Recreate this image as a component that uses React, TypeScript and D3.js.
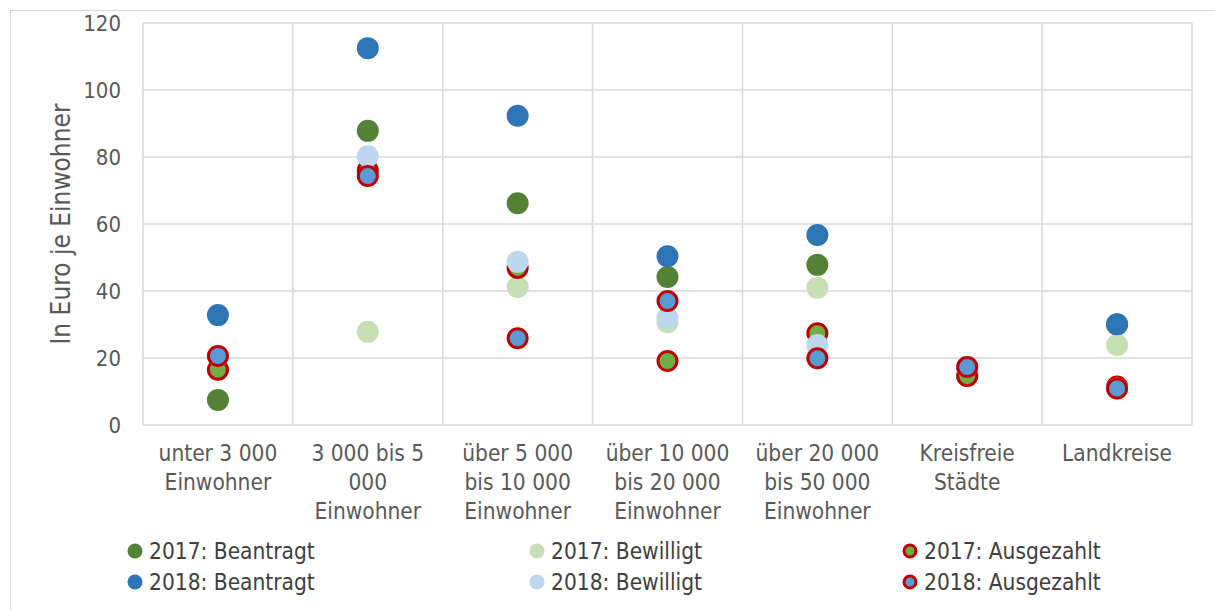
import { useEffect, useRef } from 'react'
import * as d3 from 'd3'

const categories = [
  ['unter 3 000', 'Einwohner'],
  ['3 000 bis 5', '000', 'Einwohner'],
  ['über 5 000', 'bis 10 000', 'Einwohner'],
  ['über 10 000', 'bis 20 000', 'Einwohner'],
  ['über 20 000', 'bis 50 000', 'Einwohner'],
  ['Kreisfreie', 'Städte'],
  ['Landkreise'],
]

const beantragt2017 = [7.5, 87.8, 66.2, 44.2, 47.8, 14.6, 30]
const bewilligt2017 = [16.5, 27.8, 41.2, 30.7, 41, 14.6, 23.9]
const ausgezahlt2017 = [16.5, 76, 46.9, 19.1, 27.4, 14.6, 11.5]
const beantragt2018 = [32.8, 112.5, 92.3, 50.4, 56.7, 17.3, 30.1]
const bewilligt2018 = [20.6, 80.2, 48.7, 31.9, 23.9, 17.3, 10.9]
const ausgezahlt2018 = [20.6, 74.3, 25.9, 37, 19.9, 17.3, 10.9]

const yTicks = [0, 20, 40, 60, 80, 100, 120]

// drawing order = legend order (row-wise)
const series = [
  { name: '2017: Beantragt', values: beantragt2017, fill: '#538135', stroke: null },
  { name: '2017: Bewilligt', values: bewilligt2017, fill: '#c5e0b4', stroke: null },
  { name: '2017: Ausgezahlt', values: ausgezahlt2017, fill: '#70ad47', stroke: '#c00000' },
  { name: '2018: Beantragt', values: beantragt2018, fill: '#2e75b6', stroke: null },
  { name: '2018: Bewilligt', values: bewilligt2018, fill: '#bdd7ee', stroke: null },
  { name: '2018: Ausgezahlt', values: ausgezahlt2018, fill: '#5b9bd5', stroke: '#c00000' },
]

const FONT = '"DejaVu Sans Condensed", "DejaVu Sans", sans-serif'
const TEXT = '#595959'

export default function App() {
  const ref = useRef<SVGSVGElement>(null)

  useEffect(() => {
    if (!ref.current) return
    const svg = d3.select(ref.current)
    svg.selectAll('*').remove()

    const left = 143
    const right = 1192
    const top = 23
    const bottom = 425

    // outer chart border
    svg.append('rect')
      .attr('x', 10.5).attr('y', 10.5)
      .attr('width', 1220).attr('height', 620)
      .attr('fill', '#fff').attr('stroke', '#d9d9d9')

    const x = d3.scaleBand<number>()
      .domain(d3.range(categories.length))
      .range([left, right])
    const y = d3.scaleLinear().domain([0, 120]).range([bottom, top])

    // horizontal gridlines
    svg.append('g').selectAll('line')
      .data(yTicks)
      .join('line')
      .attr('x1', left).attr('x2', right)
      .attr('y1', (d) => y(d)).attr('y2', (d) => y(d))
      .attr('stroke', '#d9d9d9').attr('stroke-width', 1.5)

    // vertical gridlines between categories
    const edges = d3.range(categories.length + 1).map((i) =>
      i < categories.length ? (x(i) as number) : right)
    svg.append('g').selectAll('line')
      .data(edges)
      .join('line')
      .attr('x1', (d) => d).attr('x2', (d) => d)
      .attr('y1', top).attr('y2', bottom)
      .attr('stroke', '#d9d9d9').attr('stroke-width', 1.5)

    // y tick labels
    svg.append('g').selectAll('text')
      .data(yTicks)
      .join('text')
      .attr('x', 121)
      .attr('y', (d) => y(d))
      .attr('dy', '0.36em')
      .attr('text-anchor', 'end')
      .attr('font-family', FONT)
      .attr('font-size', 22)
      .attr('fill', TEXT)
      .text((d) => d)

    // y axis title
    svg.append('text')
      .attr('transform', `translate(70,${(top + bottom) / 2}) rotate(-90)`)
      .attr('text-anchor', 'middle')
      .attr('font-family', FONT)
      .attr('font-size', 26)
      .attr('fill', TEXT)
      .text('In Euro je Einwohner')

    // category labels
    const cat = svg.append('g')
    categories.forEach((lines, i) => {
      const cx = (x(i) as number) + x.bandwidth() / 2
      lines.forEach((line, j) => {
        cat.append('text')
          .attr('x', cx)
          .attr('y', 461 + j * 29)
          .attr('text-anchor', 'middle')
          .attr('font-family', FONT)
          .attr('font-size', 22.5)
          .attr('fill', TEXT)
          .text(line)
      })
    })

    // points
    series.forEach((s) => {
      svg.append('g').selectAll('circle')
        .data(s.values)
        .join('circle')
        .attr('cx', (_, i) => (x(i) as number) + x.bandwidth() / 2)
        .attr('cy', (d) => y(d))
        .attr('r', s.stroke ? 9.5 : 11)
        .attr('fill', s.fill)
        .attr('stroke', s.stroke ?? 'none')
        .attr('stroke-width', s.stroke ? 3 : 0)
    })

    // legend (3 columns x 2 rows)
    const legendX = [135, 537, 910]
    const legendY = [551, 582]
    const lg = svg.append('g')
    series.forEach((s, k) => {
      const col = k % 3
      const row = Math.floor(k / 3)
      lg.append('circle')
        .attr('cx', legendX[col])
        .attr('cy', legendY[row])
        .attr('r', s.stroke ? 6 : 7.5)
        .attr('fill', s.fill)
        .attr('stroke', s.stroke ?? 'none')
        .attr('stroke-width', s.stroke ? 3 : 0)
      lg.append('text')
        .attr('x', legendX[col] + 14)
        .attr('y', legendY[row])
        .attr('dy', '0.36em')
        .attr('font-family', FONT)
        .attr('font-size', 22.5)
        .attr('fill', '#404040')
        .text(s.name)
    })
  }, [])

  return (
    <svg
      ref={ref}
      width={1215}
      height={610}
      style={{ position: 'absolute', left: 0, top: 0, background: '#fff' }}
    />
  )
}
